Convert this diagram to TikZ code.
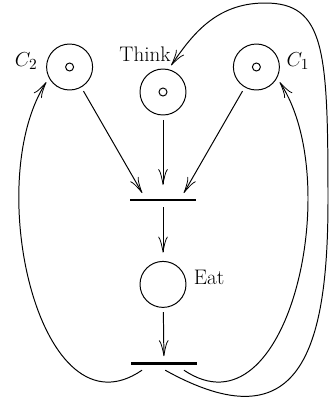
\documentclass[tikz,border=0pt]{standalone}
\usetikzlibrary{positioning,arrows.meta}

\begin{document}
\begin{tikzpicture}[
        font=\fontsize{15}{18}\selectfont,
        line width=0.7pt,
        arc/.style={-{Classical TikZ Rightarrow[length=4mm,width=2.4mm]}},
        place/.style={
            circle,
            draw,
            minimum size=11.5mm,
            inner sep=0pt,
            outer sep=1.2mm
        },
        token/.style={circle, draw, minimum size=2mm, inner sep=0pt},
        transition/.style={
            rectangle,
            fill=black,
            minimum width=16.5mm,
            minimum height=0.7mm,
            inner sep=0pt,
            outer sep=1.4mm
        }
    ]
    \useasboundingbox (0,0) rectangle (8.25,-9.95);

    % places
    \node[place] (c2) at (1.74,-1.675) {};
    \node[place] (think) at (4.075,-2.3) {};
    \node[place] (c1) at (6.41,-1.675) {};
    \node[place] (eat) at (4.075,-7.11) {};

    \node[token] (c2tok) at (c2) {};
    \node[token] (thinktok) at (think) {};
    \node[token] (c1tok) at (c1) {};

    % transitions
    \node[transition] (t1) at (4.075,-5.0) {};
    \node[transition] (t2) at (4.1,-9.08) {};

    % labels
    \node[left=-0.02cm of c2, yshift=0.14cm] (c2lbl) {$C_2$};
    \node[above=-0.05cm of think, xshift=-0.45cm] (thinklbl) {Think};
    \node[right=-0.07cm of c1, yshift=0.14cm] (c1lbl) {$C_1$};
    \node[right=-0.05cm of eat, yshift=0.17cm] (eatlbl) {Eat};

    % arcs
    \draw[arc] (c2) -- ([xshift=-5.2mm]t1.north);
    \draw[arc, shorten >=2mm] (think) -- (t1);
    \draw[arc] (c1) -- ([xshift=5.2mm]t1.north);
    \draw[arc, shorten >=1mm] (t1) -- (eat);
    \draw[arc] (eat) -- (t2);

    \draw[arc] ([xshift=-5.5mm]t2.south) .. controls +(-2.55,-1.75) and +(-1.625,-2.525) .. (c2.213);
    \draw[arc] ([xshift=5mm]t2.south) .. controls +(2.6,-1.75) and +(1.65,-2.5) .. (c1.327);
    \draw[arc] ([xshift=0.3mm]t2.south) .. controls +(3.375,-1.875) and +(0,-3.75) .. (8.2,-5.0)
        .. controls +(0,3.75) and +(1.5,0) .. (6.625,-0.075)
        .. controls +(-1.25,0) and +(0.5,0.725) .. (think.73);

\end{tikzpicture}
\end{document}
